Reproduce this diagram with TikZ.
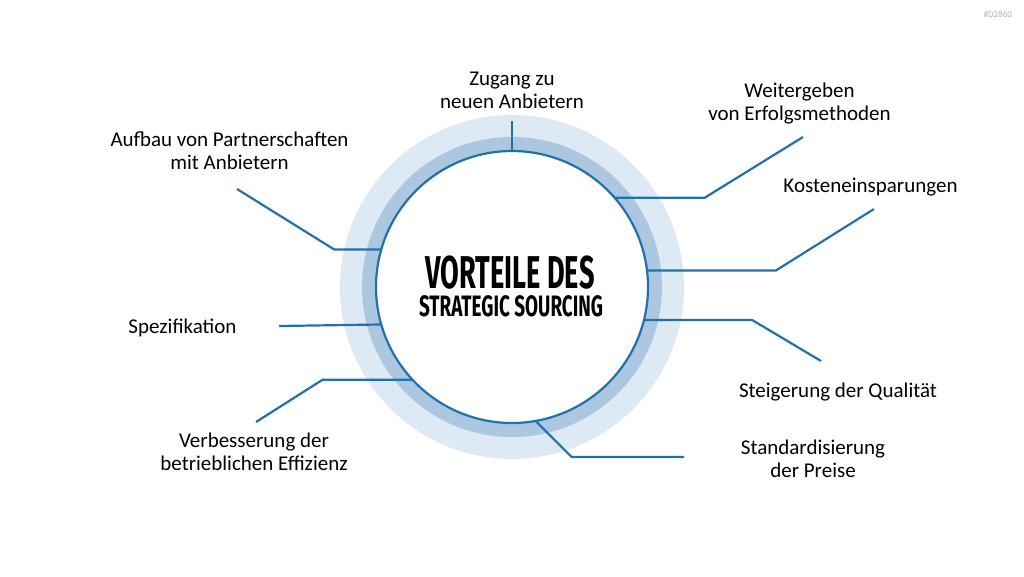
\documentclass[tikz,border=0pt]{standalone}
\usepackage{fontspec}
\setmainfont{Carlito}
\newfontfamily\titlefont[FakeStretch=0.59]{Fira Sans}
\newfontfamily\subtitlefont[FakeStretch=0.64]{Fira Sans}
\usepackage{xcolor}

\definecolor{linkblue}{RGB}{34,113,172}
\definecolor{ringlight}{RGB}{221,233,243}
\definecolor{ringdark}{RGB}{171,200,224}

\begin{document}
\begin{tikzpicture}[x=1pt, y=-1pt,
  link/.style={linkblue, line width=2.2pt},
  lbl/.style={font=\fontsize{21}{23}\selectfont, align=center, anchor=base, inner sep=0pt}]
  \useasboundingbox (0,0) rectangle (1024,576);
  \coordinate (mid) at (512,287);

  % two rings behind the core circle
  \foreach \r/\c in {172/ringlight, 150/ringdark}
    \fill[\c] (mid) circle (\r pt);

  \node[circle, draw=linkblue, line width=2.2pt, fill=white, minimum size=272pt,
        inner sep=0pt, outer sep=0pt] (core) at (mid) {};

  % title inside the core
  \node[font=\titlefont\bfseries\fontsize{46}{46}\selectfont, anchor=base, inner sep=0pt]
    (title) at (510,288.3) {VORTEILE DES};
  \node[font=\subtitlefont\bfseries\fontsize{29.5}{29.5}\selectfont, anchor=base, inner sep=0pt]
    (subtitle) at (511,316.7) {STRATEGIC SOURCING};

  % free ends of the connectors
  \coordinate (zEnd) at (512,121);
  \coordinate (wEnd) at (803,137);
  \coordinate (kEnd) at (874,209);
  \coordinate (qEnd) at (821,361);
  \coordinate (pEnd) at (684,457);
  \coordinate (eEnd) at (256,422);
  \coordinate (sEnd) at (279,326);
  \coordinate (aEnd) at (237,189);

  \draw[link] (core.90) -- (zEnd);
  \draw[link] (core.41) -- ++(90,0) -- (wEnd);
  \draw[link] (core.7.5) -- ++(129,0) -- (kEnd);
  \draw[link] (core.-14.5) -- ++(108,0) -- (qEnd);
  \draw[link] (core.-80) -- ++(36,36) -- (pEnd);
  \draw[link] (core.223.6) -- ++(-90,0) -- (eEnd);
  \draw[link] (core.196.7) -- (sEnd);
  \draw[link] (core.164) -- ++(-47,0) -- (aEnd);

  % labels (base = baseline of the last line)
  \node[lbl] (zugang) at (512,108) {Zugang zu\\neuen Anbietern};
  \node[lbl] (weiter) at (799.5,120) {Weitergeben\\von Erfolgsmethoden};
  \node[lbl] (kosten) at (870.5,192) {Kosteneinsparungen};
  \node[lbl] (qual) at (838,397) {Steigerung der Qualität};
  \node[lbl] (preise) at (813,477) {Standardisierung\\der Preise};
  \node[lbl] (effiz) at (254,470) {Verbesserung der\\betrieblichen Effizienz};
  \node[lbl] (spez) at (182.5,333) {Spezifikation};
  \node[lbl] (partner) at (229.5,169) {Aufbau von Partnerschaften\\mit Anbietern};

  \node[font=\fontsize{9}{10}\selectfont, text=gray!60, anchor=base east, inner sep=0pt] (tag) at (1012,17) {\#D2860};
\end{tikzpicture}
\end{document}
